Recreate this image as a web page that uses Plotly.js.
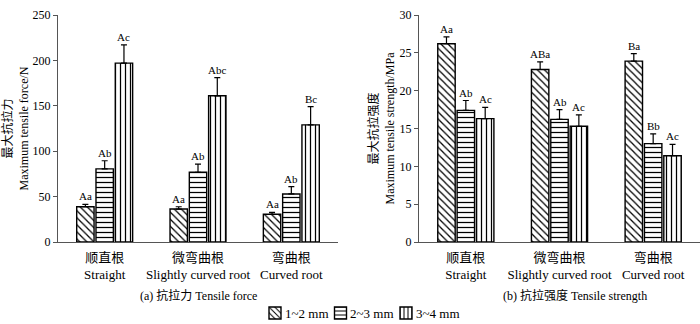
<!DOCTYPE html>
<html>
<head>
<meta charset="utf-8">
<script src="https://cdn.plot.ly/plotly-3.0.1.min.js"></script>
<style>body{margin:0;background:#fff}#plot{width:700px;height:324px}</style>
</head>
<body>
<div id="plot"></div>
<script>
// categories and series
var roots = ["顺直根<br>Straight", "微弯曲根<br>Slightly curved root", "弯曲根<br>Curved root"];
var sizes = ["1~2 mm", "2~3 mm", "3~4 mm"];

var force12 = [38.9, 36.3, 30.5];
var force23 = [80.5, 76.8, 52.9];
var force34 = [197, 161, 129];
var forceErr12 = [2.5, 2.5, 2.2];
var forceErr23 = [9, 9, 8];
var forceErr34 = [20, 20, 20];
var forceLab12 = ["Aa", "Aa", "Aa"];
var forceLab23 = ["Ab", "Ab", "Ab"];
var forceLab34 = ["Ac", "Abc", "Bc"];

var str12 = [26.2, 22.8, 23.9];
var str23 = [17.4, 16.2, 13.0];
var str34 = [16.3, 15.3, 11.4];
var strErr12 = [0.9, 1.0, 1.0];
var strErr23 = [1.3, 1.3, 1.3];
var strErr34 = [1.5, 1.5, 1.5];
var strLab12 = ["Aa", "ABa", "Ba"];
var strLab23 = ["Ab", "Ab", "Bb"];
var strLab34 = ["Ac", "Ac", "Ac"];

var shapes = ["\\", "-", "|"];
var serif = "Liberation Serif, Noto Sans CJK SC, serif";

function bar(y, err, k, xa, ya, show) {
  return {
    type: "bar", x: roots, y: y, name: sizes[k], xaxis: xa, yaxis: ya,
    legendgroup: sizes[k], showlegend: show,
    marker: {color: "white", line: {color: "black", width: 1.4},
             pattern: {shape: shapes[k], fgcolor: "black", bgcolor: "white", size: 5, solidity: 0.25}},
    error_y: {type: "data", symmetric: false, array: err, arrayminus: [0, 0, 0],
              color: "black", thickness: 1.2, width: 3},
    hoverinfo: "none"
  };
}

var data = [
  bar(force12, forceErr12, 0, "x", "y", true),
  bar(force23, forceErr23, 1, "x", "y", true),
  bar(force34, forceErr34, 2, "x", "y", true),
  bar(str12, strErr12, 0, "x2", "y2", false),
  bar(str23, strErr23, 1, "x2", "y2", false),
  bar(str34, strErr34, 2, "x2", "y2", false)
];

var slot = 0.62 / 3;
var annotations = [];
function labels(vals, errs, labs, k, xr, yr) {
  for (var i = 0; i < vals.length; i++) {
    annotations.push({
      xref: xr, yref: yr, x: i + (k - 1) * slot, y: vals[i] + errs[i],
      text: labs[i], showarrow: false, yanchor: "bottom", yshift: 0,
      font: {family: serif, size: 11, color: "black"}
    });
  }
}
labels(force12, forceErr12, forceLab12, 0, "x", "y");
labels(force23, forceErr23, forceLab23, 1, "x", "y");
labels(force34, forceErr34, forceLab34, 2, "x", "y");
labels(str12, strErr12, strLab12, 0, "x2", "y2");
labels(str23, strErr23, strLab23, 1, "x2", "y2");
labels(str34, strErr34, strLab34, 2, "x2", "y2");

annotations.push({xref: "paper", yref: "paper", x: 198 / 700, y: -0.2335, xanchor: "center", yanchor: "middle",
  text: "(a) 抗拉力 Tensile force", showarrow: false, font: {family: serif, size: 12, color: "black"}});
annotations.push({xref: "paper", yref: "paper", x: 575 / 700, y: -0.2335, xanchor: "center", yanchor: "middle",
  text: "(b) 抗拉强度 Tensile strength", showarrow: false, font: {family: serif, size: 12, color: "black"}});

// legend labels drawn right next to the legend swatches (tight spacing as in the figure)
var legX = [283, 348, 414];
for (var j = 0; j < sizes.length; j++) {
  annotations.push({xref: "paper", yref: "paper", x: legX[j] / 700,
    y: (242 - 313) / 227, xanchor: "left", yanchor: "middle", text: sizes[j], showarrow: false,
    font: {family: serif, size: 13, color: "black"}});
}

var xbase = {type: "category", showline: true, linecolor: "#555", linewidth: 1, ticks: "",
  range: [-0.5, 2.5], tickfont: {family: serif, size: 13, color: "black"}, ticklabelstandoff: 3,
  showgrid: false, zeroline: false, automargin: false};
var ybase = {showline: true, linecolor: "#555", linewidth: 1, ticks: "outside", ticklen: 4, tickcolor: "#555",
  tickfont: {family: serif, size: 12, color: "black"}, showgrid: false, zeroline: false, automargin: false};

var layout = {
  width: 700, height: 324,
  margin: {l: 0, r: 0, t: 15, b: 82},
  paper_bgcolor: "white", plot_bgcolor: "white",
  barmode: "group", bargap: 0.38, bargroupgap: 0.1,
  font: {family: serif, color: "black"},
  xaxis: Object.assign({}, xbase, {domain: [58 / 700, 338 / 700], anchor: "y"}),
  yaxis: Object.assign({}, ybase, {range: [0, 250], dtick: 50, anchor: "x",
    title: {text: "最大抗拉力<br>Maximum tensile force/N", font: {family: serif, size: 12}, standoff: 2}}),
  xaxis2: Object.assign({}, xbase, {domain: [419 / 700, 1], anchor: "y2"}),
  yaxis2: Object.assign({}, ybase, {range: [0, 30], dtick: 5, anchor: "x2",
    title: {text: "最大抗拉强度<br>Maximum tensile strength/MPa", font: {family: serif, size: 12}, standoff: 2}}),
  showlegend: true,
  legend: {orientation: "h", xref: "container", x: 255 / 700, xanchor: "left", yref: "container", y: 11 / 324,
    yanchor: "middle", font: {family: serif, size: 1, color: "rgba(0,0,0,0)"}, itemwidth: 30,
    entrywidth: 20.5, entrywidthmode: "pixels", tracegroupgap: 0},
  annotations: annotations
};

Plotly.newPlot("plot", data, layout, {staticPlot: true});
</script>
</body>
</html>
